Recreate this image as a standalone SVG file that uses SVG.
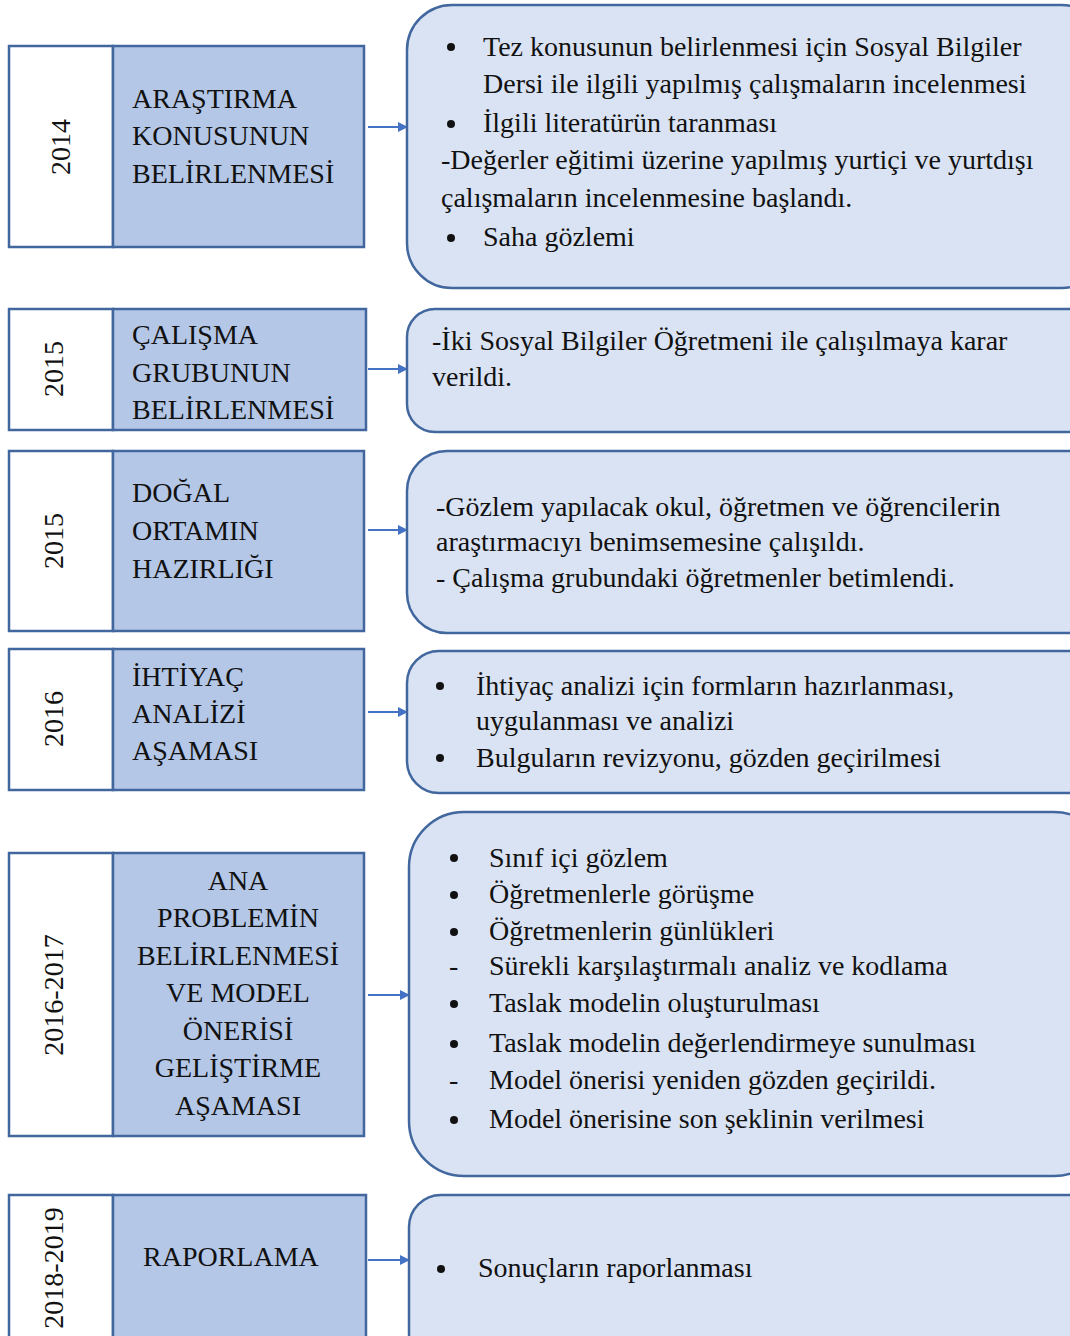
<svg xmlns="http://www.w3.org/2000/svg" width="1070" height="1336" viewBox="0 0 1070 1336">
<style>
.yr{fill:#ffffff;stroke:#41679e;stroke-width:2.5}
.st{fill:#b4c7e7;stroke:#41679e;stroke-width:2.5}
.bx{fill:#dae3f3;stroke:#41679e;stroke-width:2.5}
.t{font-family:"Liberation Serif","Times New Roman",serif;font-size:28px;fill:#111111}
.b{font-family:"Liberation Serif","Times New Roman",serif;font-size:28px;fill:#111111}
.c{text-anchor:middle}
.cn{stroke:#4472c4;stroke-width:1.8;fill:none}
.dot{fill:#111111}
</style>
<defs>
<marker id="ah" markerWidth="10" markerHeight="10" refX="9" refY="5" orient="auto" markerUnits="userSpaceOnUse">
<path d="M0,0 L10,5 L0,10 z" fill="#4472c4"/>
</marker>
</defs>
<rect width="1070" height="1336" fill="#ffffff"/>

<g id="connectors">
<line class="cn" x1="368" y1="127" x2="407" y2="127" marker-end="url(#ah)"/>
<line class="cn" x1="368" y1="369" x2="407" y2="369" marker-end="url(#ah)"/>
<line class="cn" x1="368" y1="530" x2="407" y2="530" marker-end="url(#ah)"/>
<line class="cn" x1="368" y1="712" x2="407" y2="712" marker-end="url(#ah)"/>
<line class="cn" x1="368" y1="995" x2="409" y2="995" marker-end="url(#ah)"/>
<line class="cn" x1="368" y1="1260" x2="409" y2="1260" marker-end="url(#ah)"/>
</g>

<g id="row1">
<rect class="yr" x="9" y="46" width="104" height="201"/>
<rect class="st" x="113" y="46" width="251" height="201"/>
<text class="t c" transform="translate(70,147) rotate(-90)">2014</text>
<text class="t" x="132" y="108">ARAŞTIRMA</text>
<text class="t" x="132" y="145">KONUSUNUN</text>
<text class="t" x="132" y="183">BELİRLENMESİ</text>
</g>
<g id="box1">
<rect class="bx" x="407" y="5" width="700" height="283" rx="45"/>
<circle class="dot" cx="451" cy="47" r="4"/>
<text class="b" x="483" y="56">Tez konusunun belirlenmesi için Sosyal Bilgiler</text>
<text class="b" x="483" y="93">Dersi ile ilgili yapılmış çalışmaların incelenmesi</text>
<circle class="dot" cx="451" cy="124" r="4"/>
<text class="b" x="483" y="132">İlgili literatürün taranması</text>
<text class="b" x="441" y="169">-Değerler eğitimi üzerine yapılmış yurtiçi ve yurtdışı</text>
<text class="b" x="441" y="207">çalışmaların incelenmesine başlandı.</text>
<circle class="dot" cx="451" cy="238" r="4"/>
<text class="b" x="483" y="246">Saha gözlemi</text>
</g>

<g id="row2">
<rect class="yr" x="9" y="309" width="104" height="121"/>
<rect class="st" x="113" y="309" width="253" height="121"/>
<text class="t c" transform="translate(63,369) rotate(-90)">2015</text>
<text class="t" x="132" y="344">ÇALIŞMA</text>
<text class="t" x="132" y="382">GRUBUNUN</text>
<text class="t" x="132" y="419">BELİRLENMESİ</text>
</g>
<g id="box2">
<rect class="bx" x="407" y="309" width="700" height="123" rx="28"/>
<text class="b" x="432" y="350">-İki Sosyal Bilgiler Öğretmeni ile çalışılmaya karar</text>
<text class="b" x="432" y="386">verildi.</text>
</g>

<g id="row3">
<rect class="yr" x="9" y="451" width="104" height="180"/>
<rect class="st" x="113" y="451" width="251" height="180"/>
<text class="t c" transform="translate(63,541) rotate(-90)">2015</text>
<text class="t" x="132" y="502">DOĞAL</text>
<text class="t" x="132" y="540">ORTAMIN</text>
<text class="t" x="132" y="578">HAZIRLIĞI</text>
</g>
<g id="box3">
<rect class="bx" x="407" y="451" width="700" height="182" rx="40"/>
<text class="b" x="436" y="516">-Gözlem yapılacak okul, öğretmen ve öğrencilerin</text>
<text class="b" x="436" y="551">araştırmacıyı benimsemesine çalışıldı.</text>
<text class="b" x="436" y="587">- Çalışma grubundaki öğretmenler betimlendi.</text>
</g>

<g id="row4">
<rect class="yr" x="9" y="649" width="104" height="141"/>
<rect class="st" x="113" y="649" width="251" height="141"/>
<text class="t c" transform="translate(63,719) rotate(-90)">2016</text>
<text class="t" x="132" y="686">İHTİYAÇ</text>
<text class="t" x="132" y="723">ANALİZİ</text>
<text class="t" x="132" y="760">AŞAMASI</text>
</g>
<g id="box4">
<rect class="bx" x="407" y="651" width="700" height="142" rx="32"/>
<circle class="dot" cx="440" cy="686" r="4"/>
<text class="b" x="476" y="695">İhtiyaç analizi için formların hazırlanması,</text>
<text class="b" x="476" y="730">uygulanması ve analizi</text>
<circle class="dot" cx="440" cy="758" r="4"/>
<text class="b" x="476" y="767">Bulguların revizyonu, gözden geçirilmesi</text>
</g>

<g id="row5">
<rect class="yr" x="9" y="853" width="104" height="283"/>
<rect class="st" x="113" y="853" width="251" height="283"/>
<text class="t c" transform="translate(63,995) rotate(-90)">2016-2017</text>
<text class="t c" x="238" y="890">ANA</text>
<text class="t c" x="238" y="927">PROBLEMİN</text>
<text class="t c" x="238" y="965">BELİRLENMESİ</text>
<text class="t c" x="238" y="1002">VE MODEL</text>
<text class="t c" x="238" y="1040">ÖNERİSİ</text>
<text class="t c" x="238" y="1077">GELİŞTİRME</text>
<text class="t c" x="238" y="1115">AŞAMASI</text>
</g>
<g id="box5">
<rect class="bx" x="409" y="812" width="700" height="364" rx="55"/>
<circle class="dot" cx="454" cy="858" r="4"/>
<text class="b" x="489" y="867">Sınıf içi gözlem</text>
<circle class="dot" cx="454" cy="895" r="4"/>
<text class="b" x="489" y="903">Öğretmenlerle görüşme</text>
<circle class="dot" cx="454" cy="932" r="4"/>
<text class="b" x="489" y="940">Öğretmenlerin günlükleri</text>
<text class="b" x="449" y="975">-</text>
<text class="b" x="489" y="975">Sürekli karşılaştırmalı analiz ve kodlama</text>
<circle class="dot" cx="454" cy="1004" r="4"/>
<text class="b" x="489" y="1012">Taslak modelin oluşturulması</text>
<circle class="dot" cx="454" cy="1044" r="4"/>
<text class="b" x="489" y="1052">Taslak modelin değerlendirmeye sunulması</text>
<text class="b" x="449" y="1089">-</text>
<text class="b" x="489" y="1089">Model önerisi yeniden gözden geçirildi.</text>
<circle class="dot" cx="454" cy="1120" r="4"/>
<text class="b" x="489" y="1128">Model önerisine son şeklinin verilmesi</text>
</g>

<g id="row6">
<rect class="yr" x="9" y="1195" width="104" height="160"/>
<rect class="st" x="113" y="1195" width="253" height="160"/>
<text class="t c" transform="translate(63,1268) rotate(-90)">2018-2019</text>
<text class="t" x="143" y="1266">RAPORLAMA</text>
</g>
<g id="box6">
<rect class="bx" x="409" y="1195" width="700" height="170" rx="32"/>
<circle class="dot" cx="441" cy="1269" r="4"/>
<text class="b" x="478" y="1277">Sonuçların raporlanması</text>
</g>
</svg>
